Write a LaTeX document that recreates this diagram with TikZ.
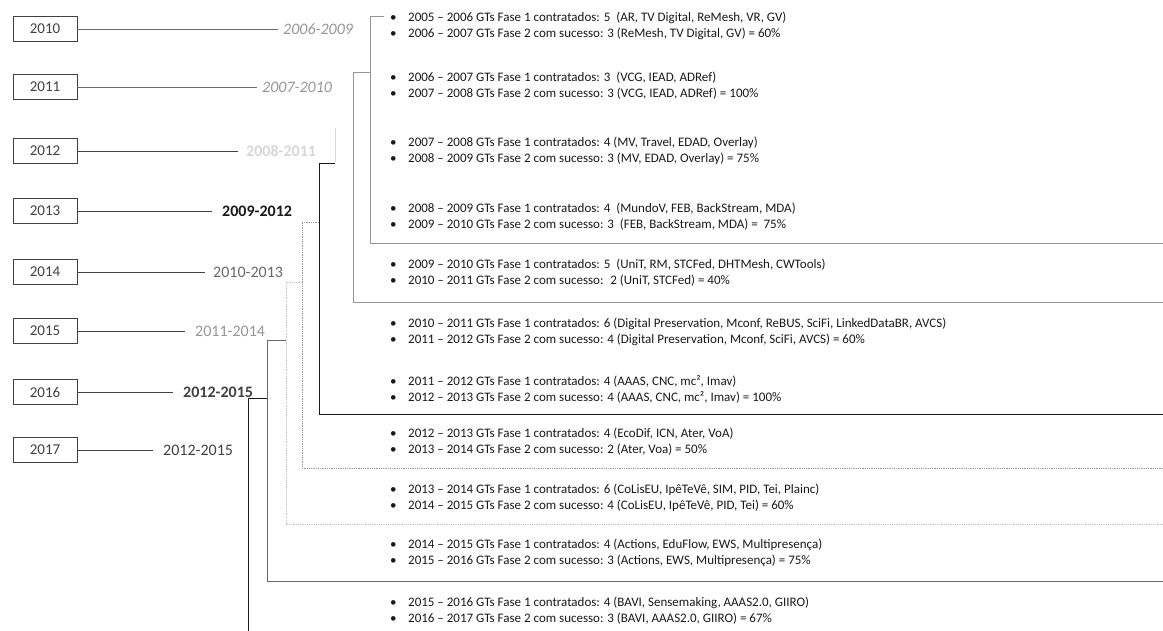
\documentclass[tikz,border=0pt]{standalone}
\usepackage{fontspec}
\setmainfont{Carlito}
\usetikzlibrary{positioning, calc}

\definecolor{ink}{RGB}{25,25,25}
\definecolor{boxline}{RGB}{65,65,65}
\definecolor{muted}{RGB}{105,105,105}
\definecolor{faded}{RGB}{150,150,150}
\definecolor{ghost}{RGB}{215,215,215}

\tikzset{
    yearbox/.style={
        rectangle,
        draw=boxline,
        line width=0.8pt,
        minimum width=64pt,
        minimum height=25pt,
        inner sep=0pt,
        text=boxline,
        font=\fontsize{15}{15}\selectfont
    },
    yearlink/.style={
        draw=boxline,
        line width=0.7pt
    },
    period/.style={
        anchor=west,
        inner sep=0pt,
        text=ink,
        font=\fontsize{16}{16}\selectfont
    },
    periodlight/.style={
        period,
        text=faded,
        font=\fontsize{16}{16}\selectfont\itshape
    },
    periodbold/.style={
        period,
        font=\fontsize{16}{16}\selectfont\bfseries
    },
    gtitem/.style={
        anchor=west,
        inner sep=0pt,
        text=ink,
        font=\fontsize{13}{14}\selectfont
    },
    bracket/.style={
        draw=ink,
        line width=0.9pt
    },
    bracketgray/.style={
        draw=muted,
        line width=0.7pt
    },
    bracketlight/.style={
        draw=faded,
        line width=0.6pt
    },
    bracketdot/.style={
        draw=faded,
        densely dotted,
        line width=0.8pt
    }
}

\newcommand{\bul}{\makebox[18pt][l]{\textbullet}}

\begin{document}
\begin{tikzpicture}[x=1pt, y=-1pt]

\useasboundingbox (0,0) rectangle (1163,631);
\fill[white] (0,0) rectangle (1163,631);

% --- Year boxes ---
\foreach \yr/\yy in {2010/29, 2011/87, 2012/151, 2013/211, 2014/272, 2015/331, 2016/392, 2017/450}
    \node[yearbox] (y\yr) at (45,\yy) {\yr};

% --- Periods ---
\node[periodlight] (p2010) at (283,29) {2006-2009};
\node[periodlight] (p2011) at (262,87) {2007-2010};
\node[period, text=ghost, font=\fontsize{16}{16}\selectfont\bfseries] (p2012) at (246,151) {2008-2011};
\node[periodbold] (p2013) at (222,211) {2009-2012};
\node[period, text=muted] (p2014) at (213,272) {2010-2013};
\node[period, text=faded] (p2015) at (195,331) {2011-2014};
\node[periodbold, text=boxline] (p2016) at (183,392) {2012-2015};
\node[period, text=boxline] (p2017) at (163,450) {2012-2015};

\draw[yearlink, draw=muted] (y2010) -- ([xshift=-5pt]p2010.west);
\draw[yearlink, draw=muted] (y2011) -- ([xshift=-5pt]p2011.west);
\draw[yearlink] (y2012) -- ([xshift=-8pt]p2012.west);
\draw[yearlink] (y2013) -- ([xshift=-10pt]p2013.west);
\draw[yearlink] (y2014) -- ([xshift=-8pt]p2014.west);
\draw[yearlink] (y2015) -- ([xshift=-10pt]p2015.west);
\draw[yearlink] (y2016) -- ([xshift=-10pt]p2016.west);
\draw[yearlink] (y2017) -- ([xshift=-10pt]p2017.west);

% --- GT rows ---
\node[gtitem] (g1a) at (390,18) {\bul 2005 -- 2006 GTs Fase 1 contratados: 5 \ (AR, TV Digital, ReMesh, VR, GV)};
\node[gtitem] (g1b) at (390,34) {\bul 2006 -- 2007 GTs Fase 2 com sucesso: 3 (ReMesh, TV Digital, GV) = 60\%};

\node[gtitem] (g2a) at (390,78) {\bul 2006 -- 2007 GTs Fase 1 contratados: 3 \ (VCG, IEAD, ADRef)};
\node[gtitem] (g2b) at (390,94) {\bul 2007 -- 2008 GTs Fase 2 com sucesso: 3 (VCG, IEAD, ADRef) = 100\%};

\node[gtitem] (g3a) at (390,143) {\bul 2007 -- 2008 GTs Fase 1 contratados: 4 (MV, Travel, EDAD, Overlay)};
\node[gtitem] (g3b) at (390,159) {\bul 2008 -- 2009 GTs Fase 2 com sucesso: 3 (MV, EDAD, Overlay) = 75\%};

\node[gtitem] (g4a) at (390,209) {\bul 2008 -- 2009 GTs Fase 1 contratados: 4 \ (MundoV, FEB, BackStream, MDA)};
\node[gtitem] (g4b) at (390,225) {\bul 2009 -- 2010 GTs Fase 2 com sucesso: 3 \ (FEB, BackStream, MDA) = \ 75\%};

\node[gtitem] (g5a) at (390,265) {\bul 2009 -- 2010 GTs Fase 1 contratados: 5 \ (UniT, RM, STCFed, DHTMesh, CWTools)};
\node[gtitem] (g5b) at (390,281) {\bul 2010 -- 2011 GTs Fase 2 com sucesso: \ 2 (UniT, STCFed) = 40\%};

\node[gtitem] (g6a) at (390,324) {\bul 2010 -- 2011 GTs Fase 1 contratados: 6 (Digital Preservation, Mconf, ReBUS, SciFi, LinkedDataBR, AVCS)};
\node[gtitem] (g6b) at (390,340) {\bul 2011 -- 2012 GTs Fase 2 com sucesso: 4 (Digital Preservation, Mconf, SciFi, AVCS) = 60\%};

\node[gtitem] (g7a) at (390,381) {\bul 2011 -- 2012 GTs Fase 1 contratados: 4 (AAAS, CNC, mc², Imav)};
\node[gtitem] (g7b) at (390,397) {\bul 2012 -- 2013 GTs Fase 2 com sucesso: 4 (AAAS, CNC, mc², Imav) = 100\%};

\node[gtitem] (g8a) at (390,434) {\bul 2012 -- 2013 GTs Fase 1 contratados: 4 (EcoDif, ICN, Ater, VoA)};
\node[gtitem] (g8b) at (390,450) {\bul 2013 -- 2014 GTs Fase 2 com sucesso: 2 (Ater, Voa) = 50\%};

\node[gtitem] (g9a) at (390,490) {\bul 2013 -- 2014 GTs Fase 1 contratados: 6 (CoLisEU, IpêTeVê, SIM, PID, Tei, Plainc)};
\node[gtitem] (g9b) at (390,506) {\bul 2014 -- 2015 GTs Fase 2 com sucesso: 4 (CoLisEU, IpêTeVê, PID, Tei) = 60\%};

\node[gtitem] (g10a) at (390,545) {\bul 2014 -- 2015 GTs Fase 1 contratados: 4 (Actions, EduFlow, EWS, Multipresença)};
\node[gtitem] (g10b) at (390,561) {\bul 2015 -- 2016 GTs Fase 2 com sucesso: 3 (Actions, EWS, Multipresença) = 75\%};

\node[gtitem] (g11a) at (390,603) {\bul 2015 -- 2016 GTs Fase 1 contratados: 4 (BAVI, Sensemaking, AAAS2.0, GIIRO)};
\node[gtitem] (g11b) at (390,619) {\bul 2016 -- 2017 GTs Fase 2 com sucesso: 3 (BAVI, AAAS2.0, GIIRO) = 67\%};

% --- Brackets ---
% corner, tick end and far end of each bracket
\coordinate (b2010) at (370,16);   \coordinate (b2010e) at (384,16);  \coordinate (b2010r) at (1163,243);
\coordinate (b2011) at (353,72);   \coordinate (b2011r) at (1163,302);
\coordinate (b2012) at (335,128);  \coordinate (b2012s) at (335,162);
\coordinate (b2013) at (319,163);  \coordinate (b2013r) at (1163,414);
\coordinate (b2014) at (302,222);  \coordinate (b2014r) at (1163,468);
\coordinate (b2015) at (286,282);  \coordinate (b2015r) at (1163,524);
\coordinate (b2016) at (267,340);  \coordinate (b2016r) at (1163,581);
\coordinate (b2017) at (248,398);  \coordinate (b2017s) at (248,631);

\draw[bracketlight] (b2010e) -- (b2010) |- (b2010r);
\draw[bracketlight] (b2011 -| b2010) -- (b2011) |- (b2011r);
\draw[draw=ghost, line width=0.8pt] (b2012) -- (b2012s);
\draw[bracket] (b2013 -| b2012) -- (b2013) |- (b2013r);
\draw[bracketdot] (b2014 -| b2013) -- (b2014) |- (b2014r);
\draw[bracketdot, draw=ghost!70!faded] (b2015 -| b2014) -- (b2015) |- (b2015r);
\draw[bracketgray] (b2016 -| b2015) -- (b2016) |- (b2016r);
\draw[bracket] (b2017 -| b2016) -- (b2017) -- (b2017s);

\end{tikzpicture}
\end{document}
